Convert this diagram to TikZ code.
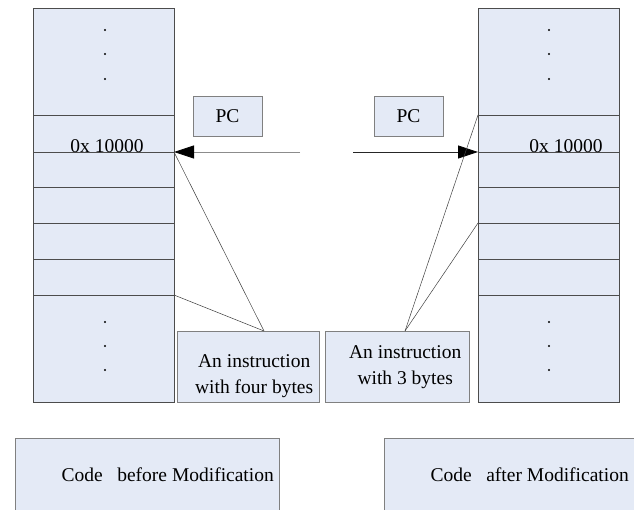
\documentclass[tikz,border=0pt]{standalone}
\usepackage{fontspec}
\setmainfont{Liberation Serif}
\usetikzlibrary{positioning,arrows.meta}

\definecolor{cellblue}{HTML}{E4EAF6}

\begin{document}
\begin{tikzpicture}
    [x=1pt,y=1pt,
    cell/.style={draw=black!70,fill=cellblue,minimum width=141pt,inner sep=0pt,outer sep=0pt},
    pcbox/.style={draw=black!50,fill=cellblue,minimum width=69pt,minimum height=40pt,inner sep=0pt},
    instbox/.style={draw=black!50,fill=cellblue,minimum height=71pt,inner sep=0pt,anchor=north west},
    capbox/.style={draw=black!50,fill=cellblue,minimum width=264pt,minimum height=100pt,anchor=north west},
    pointer/.style={-{Triangle[length=20pt,width=13pt,black]},line width=0.8pt},
    link/.style={black!75,line width=0.5pt},
    every node/.style={font=\fontsize{19.5}{26}\selectfont},
    every label/.style={align=center,inner sep=0pt}]

\useasboundingbox (0,0) rectangle (634,510);
\clip (0,0) rectangle (634,510);

%memory cells before the change
\node[cell,minimum height=107pt,anchor=north west] (oldtop) at (33,502) {};
\node[cell,minimum height=37pt,below=0pt of oldtop] (old1) {};
\node[cell,minimum height=35pt,below=0pt of old1] (old2) {};
\node[cell,minimum height=36pt,below=0pt of old2] (old3) {};
\node[cell,minimum height=36pt,below=0pt of old3] (old4) {};
\node[cell,minimum height=36pt,below=0pt of old4] (old5) {};
\node[cell,minimum height=107pt,below=0pt of old5] (oldbot) {};

%memory cells after the change
\node[cell,minimum height=107pt,anchor=north west] (newtop) at (478,502) {};
\node[cell,minimum height=37pt,below=0pt of newtop] (new1) {};
\node[cell,minimum height=35pt,below=0pt of new1] (new2) {};
\node[cell,minimum height=36pt,below=0pt of new2] (new3) {};
\node[cell,minimum height=36pt,below=0pt of new3] (new4) {};
\node[cell,minimum height=36pt,below=0pt of new4] (new5) {};
\node[cell,minimum height=107pt,below=0pt of new5] (newbot) {};

%dots for the skipped cells
\foreach \y in {480,456,431,188,164,140} {
    \fill (105,\y) circle (1.1pt);
    \fill (549,\y) circle (1.1pt);
}

%addresses
\node[anchor=base] (oldaddr) at (107,357) {0x 10000};
\node[anchor=base] (newaddr) at (566,357) {0x 10000};

%program counters
\node[pcbox] (oldpc) at (227.5,394) {PC};
\node[pcbox] (newpc) at (408.5,394) {PC};

\coordinate (oldfrom) at (300,358);
\coordinate (newfrom) at (353,358);
\draw[pointer,black!45] (oldfrom) -- (old1.south east);
\draw[pointer,black!85] (newfrom) -- (new1.south west);

%the two instructions
\node[instbox,minimum width=142pt,
    label={[xshift=6pt,yshift=-9pt]center:An instruction\\with four bytes}] (ins4) at (177,179) {};
\node[instbox,minimum width=144pt,
    label={[xshift=8pt]center:An instruction\\with 3 bytes}] (ins3) at (325,179) {};

\coordinate (tip4) at (264,179);
\coordinate (tip3) at (405,179);
\draw[link] (old1.south east) -- (tip4);
\draw[link] (old5.south east) -- (tip4);
\draw[link] (new1.north west) -- (tip3);
\draw[link] (new4.north west) -- (tip3);

%captions
\node[capbox] (beforebox) at (15,72) {};
\node[anchor=base west] (beforetext) at (58,28) {Code~~~before Modification};
\node[capbox] (afterbox) at (384,72) {};
\node[anchor=base west] (aftertext) at (427,28) {Code~~~after Modification};

\end{tikzpicture}
\end{document}
